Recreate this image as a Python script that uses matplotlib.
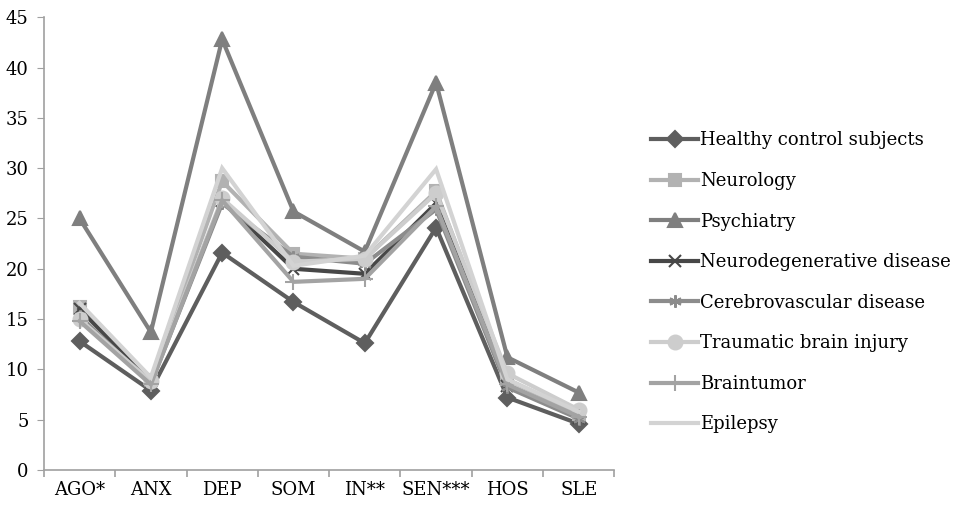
import matplotlib
matplotlib.use("Agg")
import matplotlib.pyplot as plt
import numpy as np

categories = ["AGO*", "ANX", "DEP", "SOM", "IN**", "SEN***", "HOS", "SLE"]

healthy = [12.8, 7.9, 21.6, 16.7, 12.6, 24.1, 7.2, 4.6]
neurology = [16.2, 8.9, 28.7, 21.5, 21.0, 27.7, 9.0, 5.6]
psychiatry = [25.0, 13.7, 42.8, 25.7, 21.7, 38.5, 11.2, 7.7]
neurodegenerative = [16.0, 8.8, 26.7, 20.0, 19.5, 26.5, 8.3, 5.2]
cerebrovascular = [15.3, 8.6, 26.5, 21.2, 20.5, 25.9, 8.2, 5.1]
traumatic = [15.0, 8.8, 27.0, 20.7, 21.0, 27.5, 9.6, 6.0]
braintumor = [14.8, 8.5, 26.8, 18.7, 19.0, 26.2, 8.5, 5.3]
epilepsy = [16.6, 9.2, 30.0, 20.3, 21.3, 29.9, 9.0, 5.8]

series = [
    ("Healthy control subjects", healthy, "#5e5e5e", "D", 8),
    ("Neurology", neurology, "#b2b2b2", "s", 8),
    ("Psychiatry", psychiatry, "#7f7f7f", "^", 10),
    ("Neurodegenerative disease", neurodegenerative, "#474747", "x", 9),
    ("Cerebrovascular disease", cerebrovascular, "#8c8c8c", (6, 2, 0), 9),
    ("Traumatic brain injury", traumatic, "#cdcdcd", "o", 10),
    ("Braintumor", braintumor, "#a3a3a3", "+", 11),
    ("Epilepsy", epilepsy, "#d3d3d3", None, 0),
]

plt.rcParams["font.family"] = ["DejaVu Serif"]

fig = plt.figure(figsize=(9.54, 5.07), dpi=100)
ax = fig.add_axes([0.046, 0.073, 0.598, 0.893])

x = np.arange(len(categories))
handles = []
for label, vals, color, marker, ms in series:
    kw = dict(color=color, lw=3.0, label=label, solid_joinstyle="miter")
    if marker is not None:
        kw.update(marker=marker, markersize=ms, markerfacecolor=color,
                  markeredgecolor=color, markeredgewidth=1.5)
    h, = ax.plot(x, vals, **kw)
    handles.append(h)

ax.set_xlim(-0.5, len(categories) - 0.5)
ax.set_ylim(0, 45)
ax.set_yticks(np.arange(0, 46, 5))
ax.set_xticks(x)
ax.set_xticklabels(categories)
ax.set_xticks(np.arange(-0.5, len(categories), 1.0), minor=True)

spine_color = "#a0a0a0"
for side in ("top", "right"):
    ax.spines[side].set_visible(False)
for side in ("left", "bottom"):
    ax.spines[side].set_color(spine_color)
    ax.spines[side].set_linewidth(1.2)

ax.tick_params(axis="y", direction="out", length=5, color=spine_color,
               labelsize=13, pad=6, labelcolor="black")
ax.tick_params(axis="x", which="major", length=0, labelsize=13, pad=8)
ax.tick_params(axis="x", which="minor", direction="out", length=5,
               color=spine_color, width=1.2)

fig.legend(handles=handles, loc="upper left", bbox_to_anchor=(0.675, 0.755),
           frameon=False, fontsize=13, handlelength=2.6, handletextpad=0.1,
           labelspacing=1.25, borderaxespad=0)

fig.savefig("out.png", dpi=100)
